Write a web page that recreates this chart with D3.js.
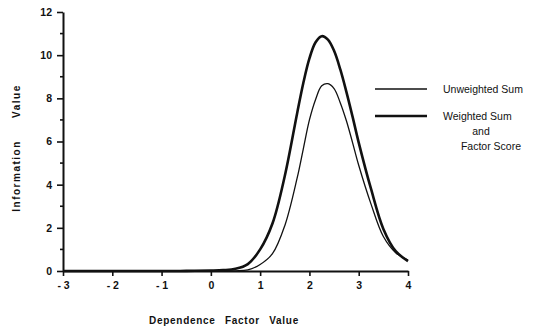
<!DOCTYPE html>
<html><head><meta charset="utf-8">
<script src="https://cdn.jsdelivr.net/npm/d3@7"></script>
<style>
body{margin:0;background:#fff;}
svg{display:block;}
text{font-family:"Liberation Sans",Arial,sans-serif;fill:#111;}
</style></head>
<body>
<svg id="c" width="535" height="329"></svg>
<script>
const xValues = [-3,-2.5,-2,-1.5,-1,-0.5,0,0.25,0.5,0.75,1,1.25,1.5,1.75,1.875,2,2.125,2.25,2.375,2.5,2.625,2.75,2.875,3,3.25,3.5,3.75,4];
const weighted = [0,0,0,0,0,0.005,0.02,0.04,0.1,0.32,1.0,2.2,4.4,7.3,8.7,9.85,10.6,10.88,10.72,10.2,9.35,8.3,7.15,5.95,3.8,1.95,0.92,0.46];
const unweighted = [0,0,0,0,0,0,0,0.003,0.01,0.05,0.3,0.8,2.1,4.3,5.65,7.0,7.95,8.58,8.68,8.45,7.8,6.96,5.95,4.9,3.1,1.6,0.85,0.5];
const xTicks = [-3,-2,-1,0,1,2,3,4];
const yTicks = [0,2,4,6,8,10,12];
const yMinor = [1,3,5,7,9,11];
const legendLabels = [["Unweighted Sum"],["Weighted Sum","and","Factor Score"]];

const svg = d3.select("#c");
const x = d3.scaleLinear().domain([-3,4]).range([63,408]);
const y = d3.scaleLinear().domain([0,12]).range([271,12]);
const ink = "#111";

// y axis
const yAx = svg.append("g").attr("transform","translate(63,0)")
  .call(d3.axisLeft(y).tickValues(yTicks).tickSize(6).tickSizeOuter(0).tickPadding(5).tickFormat(d3.format("d")));
yAx.select(".domain").attr("stroke",ink).attr("stroke-width",2);
yAx.selectAll(".tick line").attr("stroke",ink).attr("stroke-width",1.6);
yAx.selectAll(".tick text").attr("font-size",10.5).attr("font-weight","bold").attr("fill",ink)
  .style("font-family","'Liberation Sans',Arial,sans-serif");
svg.append("g").selectAll("line").data(yMinor).join("line")
  .attr("x1",60).attr("x2",63).attr("y1",d=>y(d)).attr("y2",d=>y(d))
  .attr("stroke",ink).attr("stroke-width",1.6);

// x axis
const xAx = svg.append("g").attr("transform","translate(0,271)")
  .call(d3.axisBottom(x).tickValues(xTicks).tickSize(5).tickSizeOuter(0).tickPadding(6)
    .tickFormat(d => d < 0 ? "- " + Math.abs(d) : String(d)));
xAx.select(".domain").attr("stroke",ink).attr("stroke-width",2);
xAx.selectAll(".tick line").attr("stroke",ink).attr("stroke-width",1.6);
xAx.selectAll(".tick text").attr("font-size",10.5).attr("font-weight","bold").attr("fill",ink)
  .style("font-family","'Liberation Sans',Arial,sans-serif");

// axis titles
svg.append("text").attr("x",224).attr("y",324).attr("text-anchor","middle")
  .attr("font-size",10).attr("font-weight","bold").attr("letter-spacing",0.7).attr("word-spacing",6)
  .text("Dependence Factor Value");
svg.append("text").attr("transform","translate(20,148) rotate(-90)").attr("text-anchor","middle")
  .attr("font-size",10).attr("font-weight","bold").attr("letter-spacing",1.5).attr("word-spacing",18)
  .text("Information Value");

// curves
const line = d3.line().x((d,i)=>x(xValues[i])).y(d=>y(d)).curve(d3.curveCatmullRom.alpha(0.5));
svg.append("path").datum(unweighted).attr("d",line).attr("fill","none").attr("stroke",ink).attr("stroke-width",1.3);
svg.append("path").datum(weighted).attr("d",line).attr("fill","none").attr("stroke",ink).attr("stroke-width",2.6);

// legend
const lg = svg.append("g");
lg.append("line").attr("x1",375).attr("x2",427).attr("y1",89).attr("y2",89).attr("stroke",ink).attr("stroke-width",1.4);
lg.append("line").attr("x1",375).attr("x2",427).attr("y1",116).attr("y2",116).attr("stroke",ink).attr("stroke-width",2.6);
lg.append("text").attr("x",443).attr("y",93).attr("font-size",10.5).text(legendLabels[0][0]);
lg.append("text").attr("x",443).attr("y",120).attr("font-size",10.5).text(legendLabels[1][0]);
lg.append("text").attr("x",481).attr("y",135).attr("text-anchor","middle").attr("font-size",10.5).text(legendLabels[1][1]);
lg.append("text").attr("x",491).attr("y",150).attr("text-anchor","middle").attr("font-size",10.5).text(legendLabels[1][2]);
</script>
</body></html>
